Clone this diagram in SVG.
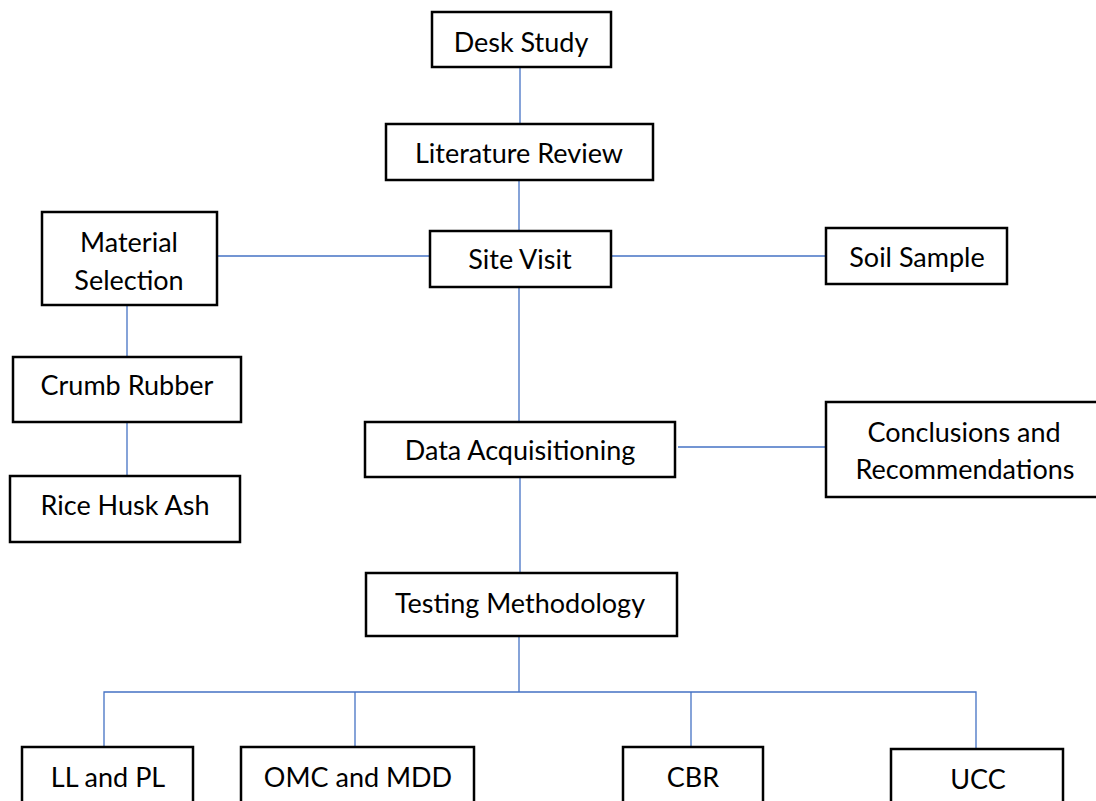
<svg xmlns="http://www.w3.org/2000/svg" width="1096" height="801" viewBox="0 0 1096 801">
  <style>
    .box { fill: #ffffff; stroke: #000000; stroke-width: 2.5; }
    .lbl { font-family: Lato, "Liberation Sans", sans-serif; font-size: 27px; fill: #000000; text-anchor: middle; }
    .link { stroke: #4472c4; stroke-width: 1.3; fill: none; }
  </style>
  <rect width="1096" height="801" fill="#ffffff"/>

  <!-- connectors -->
  <g id="connectors">
    <line class="link" x1="520" y1="67" x2="520" y2="124"/>
    <line class="link" x1="519" y1="180" x2="519" y2="231"/>
    <line class="link" x1="217" y1="256" x2="430" y2="256"/>
    <line class="link" x1="611" y1="256" x2="826" y2="256"/>
    <line class="link" x1="127" y1="305" x2="127" y2="357"/>
    <line class="link" x1="127" y1="422" x2="127" y2="476"/>
    <line class="link" x1="519" y1="287" x2="519" y2="422"/>
    <line class="link" x1="678" y1="447" x2="826" y2="447"/>
    <line class="link" x1="520" y1="477" x2="520" y2="573"/>
    <line class="link" x1="519" y1="636" x2="519" y2="692"/>
    <polyline class="link" points="104,747 104,692 976,692 976,749"/>
    <line class="link" x1="355" y1="692" x2="355" y2="747"/>
    <line class="link" x1="691" y1="692" x2="691" y2="747"/>
  </g>

  <g id="desk-study">
    <rect class="box" x="432" y="12" width="179" height="55"/>
    <text class="lbl" x="521" y="52">Desk Study</text>
  </g>
  <g id="literature-review">
    <rect class="box" x="386" y="124" width="267" height="56"/>
    <text class="lbl" x="519" y="163">Literature Review</text>
  </g>
  <g id="site-visit">
    <rect class="box" x="430" y="231" width="181" height="56"/>
    <text class="lbl" x="520" y="269">Site Visit</text>
  </g>
  <g id="material-selection">
    <rect class="box" x="42" y="212" width="175" height="93"/>
    <text class="lbl" x="129" y="252">Material</text>
    <text class="lbl" x="129" y="290">Selection</text>
  </g>
  <g id="soil-sample">
    <rect class="box" x="826" y="228" width="181" height="56"/>
    <text class="lbl" x="917" y="267">Soil Sample</text>
  </g>
  <g id="crumb-rubber">
    <rect class="box" x="13" y="357" width="228" height="65"/>
    <text class="lbl" x="127" y="395">Crumb Rubber</text>
  </g>
  <g id="rice-husk-ash">
    <rect class="box" x="10" y="476" width="230" height="66"/>
    <text class="lbl" x="125" y="515">Rice Husk Ash</text>
  </g>
  <g id="data-acquisitioning">
    <rect class="box" x="365" y="422" width="310" height="55"/>
    <text class="lbl" x="520" y="460">Data Acquisitioning</text>
  </g>
  <g id="conclusions">
    <rect class="box" x="826" y="402" width="275" height="95"/>
    <text class="lbl" x="964" y="442">Conclusions and</text>
    <text class="lbl" x="965" y="479">Recommendations</text>
  </g>
  <g id="testing-methodology">
    <rect class="box" x="366" y="573" width="311" height="63"/>
    <text class="lbl" x="520" y="613">Testing Methodology</text>
  </g>
  <g id="ll-pl">
    <rect class="box" x="22" y="747" width="171" height="60"/>
    <text class="lbl" x="108" y="787">LL and PL</text>
  </g>
  <g id="omc-mdd">
    <rect class="box" x="241" y="747" width="233" height="60"/>
    <text class="lbl" x="358" y="787">OMC and MDD</text>
  </g>
  <g id="cbr">
    <rect class="box" x="623" y="747" width="140" height="60"/>
    <text class="lbl" x="693" y="787">CBR</text>
  </g>
  <g id="ucc">
    <rect class="box" x="891" y="749" width="172" height="60"/>
    <text class="lbl" x="978" y="789">UCC</text>
  </g>
</svg>
